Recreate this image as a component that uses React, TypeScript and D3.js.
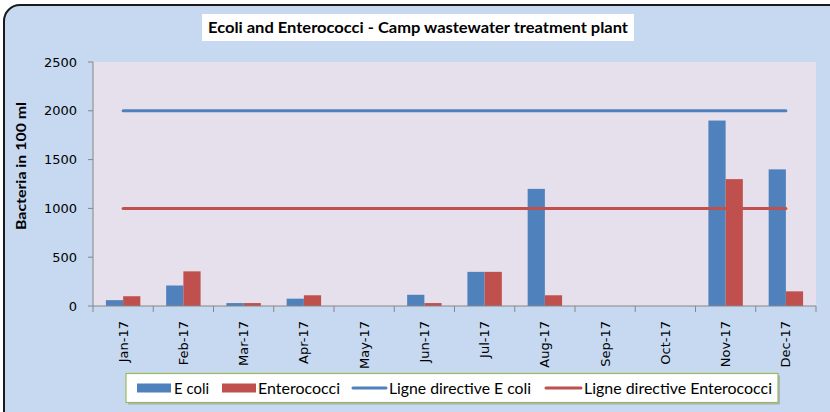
import React from "react";
import * as d3 from "d3";

const months = ["Jan-17","Feb-17","Mar-17","Apr-17","May-17","Jun-17","Jul-17","Aug-17","Sep-17","Oct-17","Nov-17","Dec-17"];
const ecoli = [60, 210, 30, 75, 0, 115, 350, 1200, 0, 0, 1900, 1400];
const entero = [100, 355, 30, 110, 0, 30, 350, 110, 0, 0, 1300, 150];
const guideEcoli = [2000,2000,2000,2000,2000,2000,2000,2000,2000,2000,2000,2000];
const guideEntero = [1000,1000,1000,1000,1000,1000,1000,1000,1000,1000,1000,1000];
const yTicks = [0, 500, 1000, 1500, 2000, 2500];

const BLUE = "#4F81BD";
const RED = "#C0504D";
const FONT = "Lato, 'DejaVu Sans', sans-serif";

export default function App() {
  const W = 830, H = 412;
  const pl = 93, pr = 816, pt = 62, pb = 306;
  const x = d3.scaleBand<string>().domain(months).range([pl, pr]).paddingInner(0).paddingOuter(0);
  const y = d3.scaleLinear().domain([0, 2500]).range([pb, pt]);
  const bw = x.bandwidth();
  const barW = bw / 3.5;
  const gap = (bw - 2 * barW) / 2;
  const line = d3.line<number>().x((_, i) => (x(months[i]) as number) + bw / 2).y(d => y(d));

  return (
    <svg width={W} height={H} style={{ position: "absolute", left: 0, top: 0 }} xmlns="http://www.w3.org/2000/svg">
      <rect x={0} y={0} width={W} height={H} fill="#ffffff" />
      <rect x={4} y={5} width={860} height={440} rx={16} ry={16} fill="#C6D9F1" stroke="#1a1a1a" strokeWidth={2} />
      {/* title */}
      <rect x={202} y={14} width={432} height={27} fill="#ffffff" />
      <text x={208} y={33} textLength={420} lengthAdjust="spacingAndGlyphs" fontFamily={FONT} fontWeight="bold" fontSize={15.5} fill="#000">
        Ecoli and Enterococci - Camp wastewater treatment plant
      </text>
      {/* plot area */}
      <rect x={pl} y={pt} width={pr - pl} height={pb - pt} fill="#E6E0EC" />
      {/* bars */}
      {months.map((m, i) => (
        <g key={m}>
          {ecoli[i] > 0 && (
            <rect x={(x(m) as number) + gap} y={y(ecoli[i])} width={barW} height={pb - y(ecoli[i])} fill={BLUE} />
          )}
          {entero[i] > 0 && (
            <rect x={(x(m) as number) + gap + barW} y={y(entero[i])} width={barW} height={pb - y(entero[i])} fill={RED} />
          )}
        </g>
      ))}
      {/* guide lines */}
      <path d={line(guideEcoli) as string} fill="none" stroke={BLUE} strokeWidth={3} strokeLinecap="round" />
      <path d={line(guideEntero) as string} fill="none" stroke={RED} strokeWidth={3} strokeLinecap="round" />
      {/* y axis */}
      <line x1={pl} x2={pl} y1={pt} y2={pb} stroke="#868686" strokeWidth={1} />
      {yTicks.map(t => (
        <g key={t}>
          <line x1={pl - 5} x2={pl} y1={y(t)} y2={y(t)} stroke="#868686" />
          <text x={77} y={y(t) + 4.5} textAnchor="end" fontFamily="'DejaVu Sans', sans-serif" fontSize={13} fill="#000">{t}</text>
        </g>
      ))}
      <text transform={`translate(26,166) rotate(-90)`} textAnchor="middle" textLength={128} lengthAdjust="spacingAndGlyphs" fontFamily={FONT} fontWeight="bold" fontSize={14} fill="#000">
        Bacteria in 100 ml
      </text>
      {/* x axis */}
      <line x1={pl} x2={pr} y1={pb} y2={pb} stroke="#868686" strokeWidth={1} />
      {d3.range(months.length + 1).map(i => (
        <line key={i} x1={pl + i * bw} x2={pl + i * bw} y1={pb} y2={pb + 6} stroke="#868686" />
      ))}
      {months.map(m => (
        <text key={m} transform={`translate(${(x(m) as number) + bw / 2 + 4.5},${pb + 15}) rotate(-90)`} textAnchor="end"
          fontFamily="'DejaVu Sans', sans-serif" fontSize={13} fill="#000">{m}</text>
      ))}
      {/* legend */}
      <rect x={128} y={375.5} width={652} height={29} fill="#8c8c8c" opacity={0.5} />
      <rect x={126} y={373.5} width={652} height={29} fill="#ffffff" stroke="#9BBB59" strokeWidth={1.2} />
      <rect x={137} y={383.5} width={34} height={9} fill={BLUE} />
      <text x={174} y={393.5} textLength={35} lengthAdjust="spacingAndGlyphs" fontFamily={FONT} fontSize={15} fill="#000">E coli</text>
      <rect x={222} y={383.5} width={34} height={9} fill={RED} />
      <text x={258} y={393.5} textLength={82} lengthAdjust="spacingAndGlyphs" fontFamily={FONT} fontSize={15} fill="#000">Enterococci</text>
      <line x1={353} x2={386} y1={388} y2={388} stroke={BLUE} strokeWidth={3} strokeLinecap="round" />
      <text x={389} y={393.5} textLength={142} lengthAdjust="spacingAndGlyphs" fontFamily={FONT} fontSize={15} fill="#000">Ligne directive E coli</text>
      <line x1={546} x2={581} y1={388} y2={388} stroke={RED} strokeWidth={3} strokeLinecap="round" />
      <text x={584} y={393.5} textLength={188} lengthAdjust="spacingAndGlyphs" fontFamily={FONT} fontSize={15} fill="#000">Ligne directive Enterococci</text>
    </svg>
  );
}
